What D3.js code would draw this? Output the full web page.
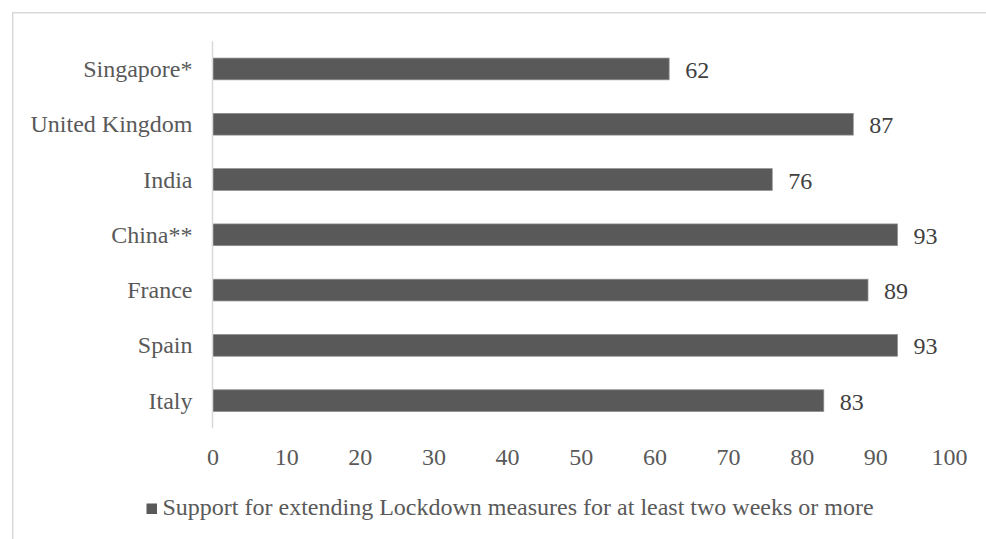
<!DOCTYPE html>
<html><head><meta charset="utf-8">
<script src="https://cdn.jsdelivr.net/npm/d3@7"></script>
</head><body>
<svg id="chart" width="986" height="539"></svg>
<script>
const categories = ["Singapore*", "United Kingdom", "India", "China**", "France", "Spain", "Italy"];
const values = [62, 87, 76, 93, 89, 93, 83];
const ticks = [0, 10, 20, 30, 40, 50, 60, 70, 80, 90, 100];
const seriesName = "Support for extending Lockdown measures for at least two weeks or more";

d3.select("body").style("margin", "0").style("padding", "0");
const svg = d3.select("#chart").style("display", "block");
const FS = 24;
const FF = "Liberation Serif";

// frame
svg.append("path").attr("d", "M12.75,540 L12.75,12.75 L990,12.75")
  .attr("fill", "none").attr("stroke", "#d9d9d9").attr("stroke-width", 1.5);

const x = d3.scaleLinear().domain([0, 100]).range([212.5, 949]);
const y = d3.scaleBand().domain(categories).range([41.3, 428.3]).paddingInner(0.607).paddingOuter(0.3035);

// bars
svg.append("g").selectAll("rect").data(values).join("rect")
  .attr("x", x(0)).attr("y", (d, i) => y(categories[i]))
  .attr("width", d => x(d) - x(0)).attr("height", y.bandwidth())
  .attr("fill", "#595959").attr("stroke", "#8c8c8c").attr("stroke-width", 0.75);

// category axis line
svg.append("line").attr("x1", x(0)).attr("x2", x(0)).attr("y1", 41.3).attr("y2", 428.3)
  .attr("stroke", "#d9d9d9").attr("stroke-width", 1.5);

// category labels
svg.append("g").selectAll("text").data(categories).join("text")
  .attr("x", x(0) - 20).attr("y", d => y(d) + y.bandwidth() / 2 + 8)
  .attr("text-anchor", "end").attr("font-size", FS).attr("font-family", FF)
  .attr("fill", "#595959").text(d => d);

// value labels
svg.append("g").selectAll("text").data(values).join("text")
  .attr("x", d => x(d) + 16).attr("y", (d, i) => y(categories[i]) + y.bandwidth() / 2 + 9)
  .attr("font-size", FS).attr("font-family", FF)
  .attr("fill", "#404040").text(d => d);

// x tick labels
const xAxis = d3.axisBottom(x).tickValues(ticks).tickSize(0).tickPadding(0);
const gx = svg.append("g").attr("transform", "translate(0,465)").call(xAxis);
gx.attr("font-family", FF).attr("font-size", FS);
gx.select(".domain").remove();
gx.selectAll("text").attr("dy", null).attr("y", 0)
  .attr("font-size", FS).attr("font-family", FF).attr("fill", "#595959");

// legend
const lg = svg.append("g");
lg.append("rect").attr("x", 146.5).attr("y", 503.5).attr("width", 10.5).attr("height", 10.5).attr("fill", "#595959");
lg.append("text").attr("x", 162.5).attr("y", 515)
  .attr("font-size", FS).attr("font-family", FF).attr("fill", "#595959").text(seriesName);
</script>
</body></html>
